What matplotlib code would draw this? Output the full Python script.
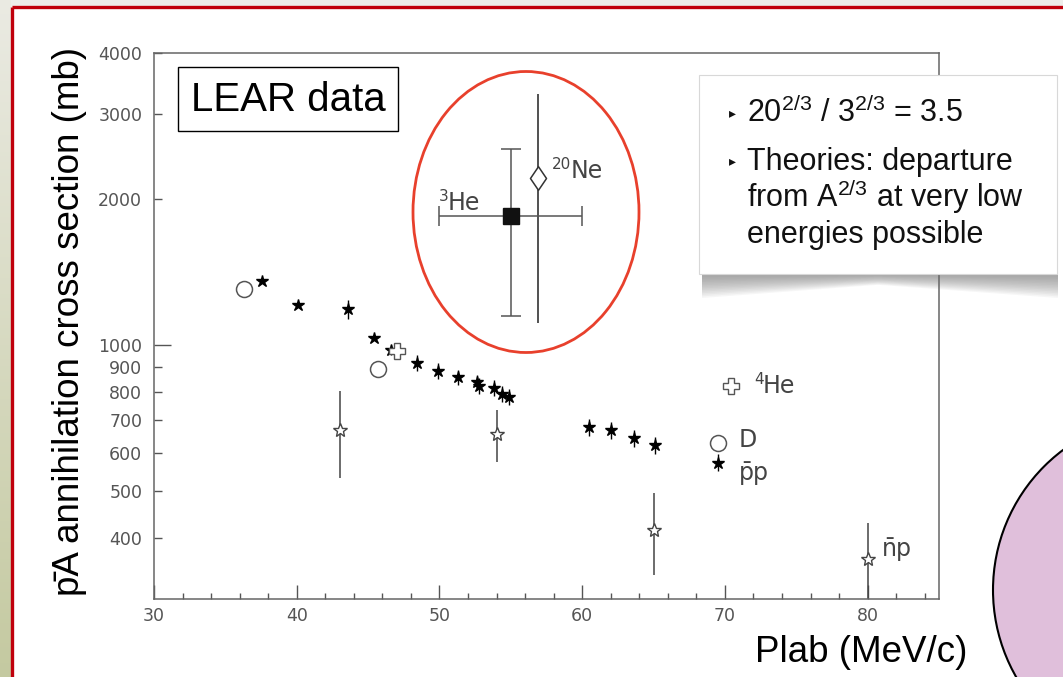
import numpy as np
import matplotlib
matplotlib.use('Agg')
import matplotlib.pyplot as plt
import matplotlib.ticker as mticker
from matplotlib.patches import Ellipse, Circle, Rectangle, Polygon
from matplotlib.path import Path

plt.rcParams['mathtext.fontset'] = 'custom'
plt.rcParams['mathtext.rm'] = 'Liberation Sans'
plt.rcParams['mathtext.it'] = 'Liberation Sans:italic'
plt.rcParams['mathtext.bf'] = 'Liberation Sans:bold'

# pbar-p annihilation (filled stars)
pp_plab = [37.6, 40.1, 43.6, 45.4, 46.6, 48.4, 49.9, 51.3, 52.6, 52.8, 53.8,
           54.4, 54.9, 60.5, 62.0, 63.6, 65.1, 69.5]
pp_sigma = [1355, 1210, 1186, 1037, 978, 921, 885, 859, 838, 825, 816,
            794, 784, 677, 668, 643, 622, 573]
pp_err = [0, 0, 55, 0, 25, 35, 33, 32, 31, 31, 30, 30, 30, 27, 27, 26, 25, 23]

# nbar-p (open stars)
np_plab = [43.0, 54.0, 65.0, 80.0]
np_sigma = [668, 655, 416, 362]
np_lo = [533, 574, 336, 280]
np_hi = [803, 736, 497, 431]

# pbar-D (open circles)
d_plab = [36.3, 45.7, 69.5]
d_sigma = [1305, 895, 629]

# pbar-4He (open crosses)
he4_plab = [47.0, 70.4]
he4_sigma = [975, 825]

# pbar-3He and pbar-20Ne
he3_plab, he3_plab_err = 55.0, 5.0
he3_sigma, he3_lo, he3_hi = 1845, 1149, 2542
ne_plab = 56.9
ne_sigma, ne_lo, ne_hi = 2213, 1110, 3292

y_major = [1000]
y_minor = [400, 500, 600, 700, 800, 900, 2000, 3000, 4000]
x_major = [30, 40, 50, 60, 70, 80]

W, H = 1063, 677
fig = plt.figure(figsize=(W / 100, H / 100), dpi=100)
fig.patch.set_facecolor('white')

ax = fig.add_axes([154 / W, 1 - 599 / H, (939 - 154) / W, (599 - 53) / H])
ax.set_xlim(30, 85)
ax.set_yscale('log')
ax.set_ylim(300, 4000)

grey = '#555555'
for s in ax.spines.values():
    s.set_color('#666666')
    s.set_linewidth(1.1)

ax.xaxis.set_major_locator(mticker.FixedLocator(x_major))
ax.xaxis.set_minor_locator(mticker.MultipleLocator(2))
ax.yaxis.set_major_locator(mticker.FixedLocator(y_major))
ax.yaxis.set_minor_locator(mticker.FixedLocator(y_minor))
ax.yaxis.set_major_formatter(mticker.FuncFormatter(lambda v, p: '%d' % v))
ax.yaxis.set_minor_formatter(mticker.FuncFormatter(lambda v, p: '%d' % v))
ax.tick_params(which='both', direction='in', color=grey, labelcolor=grey,
               labelsize=12.5, width=1, top=False, right=False)
ax.tick_params(axis='x', which='major', length=10, pad=6)
ax.tick_params(axis='x', which='minor', length=4.5)
ax.tick_params(axis='y', which='major', length=12, pad=8.5)
ax.tick_params(axis='y', which='minor', length=6, pad=8.5)
for lab in ax.get_xticklabels() + ax.get_yticklabels(minor=True) + ax.get_yticklabels():
    lab.set_family('DejaVu Sans')

# error bars
pp_err_arr = np.array(pp_err)
ax.errorbar(pp_plab, pp_sigma, yerr=[pp_err_arr, pp_err_arr], fmt='none',
            ecolor='black', elinewidth=1, zorder=2)
np_s = np.array(np_sigma)
ax.errorbar(np_plab, np_sigma, yerr=[np_s - np.array(np_lo), np.array(np_hi) - np_s],
            fmt='none', ecolor='#444444', elinewidth=1.1, zorder=2)

ax.plot(pp_plab, pp_sigma, ls='none', marker='*', ms=9, color='black', zorder=3)
ax.plot(np_plab, np_sigma, ls='none', marker='*', ms=10, mfc='white',
        mec='#444444', mew=1, zorder=3)
ax.plot(d_plab, d_sigma, ls='none', marker='o', ms=11.5, mfc='white',
        mec=grey, mew=1.1, zorder=3)
ax.plot(he4_plab, he4_sigma, ls='none', marker='P', ms=11, mfc='white',
        mec=grey, mew=1, zorder=3)

ax.errorbar([he3_plab], [he3_sigma], xerr=[[he3_plab_err], [he3_plab_err]],
            yerr=[[he3_sigma - he3_lo], [he3_hi - he3_sigma]], fmt='s', ms=11,
            mfc='#111111', mec='#111111', ecolor='#555555', elinewidth=1.1,
            capsize=7, capthick=1.1, zorder=4)
diamond = Path([(0, 1), (0.68, 0), (0, -1), (-0.68, 0), (0, 1)],
               [Path.MOVETO, Path.LINETO, Path.LINETO, Path.LINETO, Path.CLOSEPOLY])
ax.errorbar([ne_plab], [ne_sigma], yerr=[[ne_sigma - ne_lo], [ne_hi - ne_sigma]],
            fmt='none', ecolor='#222222', elinewidth=1.1, zorder=3)
ax.plot([ne_plab], [ne_sigma], ls='none', marker=diamond, ms=17, mfc='white',
        mec='#333333', mew=1.1, zorder=4)

# overlay in pixel coordinates
ov = fig.add_axes([0, 0, 1, 1], zorder=5)
ov.set_xlim(0, W)
ov.set_ylim(H, 0)
ov.axis('off')
ov.patch.set_alpha(0)

# slide decorations
grad = np.linspace(0, 1, 200)[:, None, None]
top_c = np.array([0.92, 0.92, 0.89])
bot_c = np.array([0.77, 0.79, 0.63])
ov.imshow(top_c + grad * (bot_c - top_c), extent=[0, 11, H, 0], aspect='auto', zorder=0)
ov.add_patch(Rectangle((11, 0), W - 11, 7, fc='#ededea', ec='none', zorder=0))
ov.plot([12, 12], [7, H], color='#c0000c', lw=2.4, solid_capstyle='butt', zorder=1)
ov.plot([12, W], [7, 7], color='#c0000c', lw=2.4, solid_capstyle='butt', zorder=1)

ov.add_patch(Circle((1168, 590), 175, fc='#e0bfdb', ec='black', lw=1.5, zorder=1))
ov.add_patch(Ellipse((526, 212), 226, 281, fill=False, ec='#e8402c', lw=2, zorder=2))

# LEAR data box
ov.add_patch(Rectangle((178, 67), 220, 64, fc='white', ec='black', lw=1, zorder=2))
ov.text(288, 100, 'LEAR data', ha='center', va='center', fontsize=29,
        family='Liberation Sans', color='black', zorder=3)

# text box with curved drop shadow
for i in range(14):
    d = 24 - 1.6 * i
    ov.add_patch(Polygon([(702, 262), (702, 274 + d), (878, 274 + d * 0.45),
                          (1058, 274 + d), (1058, 262)], closed=True,
                         fc='#707070', ec='none', alpha=0.06, zorder=2))
ov.add_patch(Rectangle((699, 75), 358, 199, fc='white', ec='#d8d8d8', lw=0.8, zorder=3))
box_font = dict(family='Liberation Sans', fontsize=22, color='#111111', va='baseline', zorder=4)
ov.text(729, 117, '\u25b8', family='DejaVu Sans', fontsize=10, color='#111111', zorder=4)
ov.text(729, 165, '\u25b8', family='DejaVu Sans', fontsize=10, color='#111111', zorder=4)
ov.text(747, 122, r'20$^{2/3}$ / 3$^{2/3}$ = 3.5', **box_font)
ov.text(747, 170, 'Theories: departure', **box_font)
ov.text(747, 207, r'from A$^{2/3}$ at very low', **box_font)
ov.text(747, 243, 'energies possible', **box_font)

# point labels
lab_font = dict(family='DejaVu Sans', fontsize=17, color='#444444', va='baseline', zorder=4)
sup_font = dict(family='DejaVu Sans', fontsize=11, color='#444444', va='baseline', zorder=4)
ov.text(439, 201, '3', **sup_font)
ov.text(448, 210, 'He', **lab_font)
ov.text(552, 169, '20', **sup_font)
ov.text(571, 178, 'Ne', **lab_font)
ov.text(754, 384, '4', **sup_font)
ov.text(763, 393, 'He', **lab_font)
ov.text(739, 447, 'D', **lab_font)
ov.text(739, 480, 'p\u0304p', **lab_font)
ov.text(882, 556, 'n\u0304p', **lab_font)

# axis titles
ov.text(70, 321, 'p\u0304A annihilation cross section (mb)', rotation=90,
        ha='center', va='center', fontsize=26.5, color='black',
        family=['Liberation Sans', 'DejaVu Sans'])
ov.text(861, 652, 'Plab (MeV/c)', ha='center', va='center', fontsize=26.5,
        color='black', family='Liberation Sans')

fig.savefig('out.png', dpi=100)
